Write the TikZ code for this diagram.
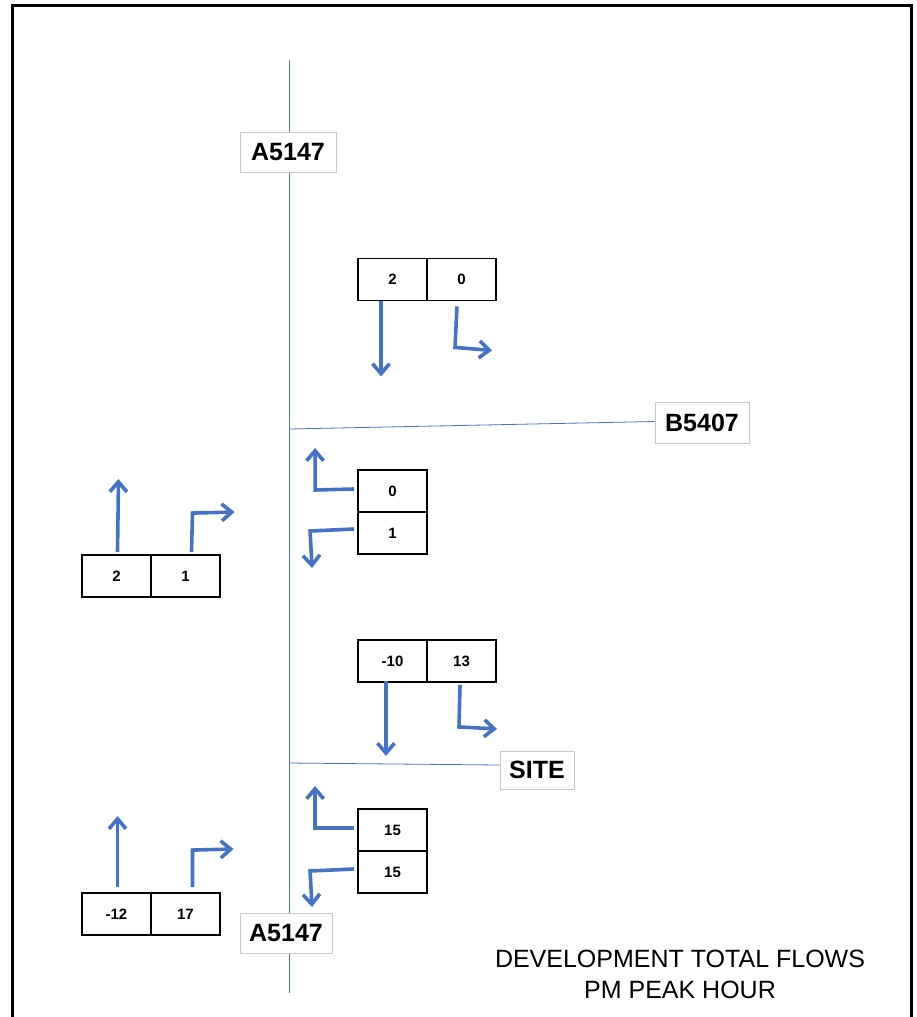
\documentclass[tikz,border=0pt]{standalone}
\usepackage{fontspec}
\setmainfont{Liberation Sans}
\usepackage{tikz}
\usetikzlibrary{arrows.meta}
\definecolor{flowblue}{HTML}{4472C4}
\definecolor{tagline}{HTML}{C8C8C8}
\tikzset{
  road/.style    = {flowblue, line width=0.8pt},
  flow/.style    = {flowblue, line width=3.6pt, -{Straight Barb[length=10pt,width=17pt]}},
  cell/.style    = {draw, line width=1.9pt, minimum width=69pt, minimum height=42pt,
                    inner sep=0pt, font=\fontsize{15}{17}\selectfont\bfseries},
  roadtag/.style = {draw=tagline, line width=1pt, fill=white, inner sep=0pt,
                    font=\fontsize{25}{28}\selectfont\bfseries}
}

\begin{document}
\begin{tikzpicture}[x=1pt,y=-1pt]
  \useasboundingbox (0,0) rectangle (916,1017);
  \draw[line width=3.5pt] (12.5,1017) -- (12.5,5.5) -- (911.5,5.5) -- (911.5,1017);

  % roads
  \coordinate (rtop) at (289,60);
  \coordinate (rbot) at (289,993);
  \coordinate (jb) at (289,429);
  \coordinate (js) at (289,763);
  \node[roadtag,minimum width=94pt,minimum height=41pt] (b5407) at (702,422.5) {B5407};
  \node[roadtag,minimum width=74pt,minimum height=38pt] (site) at (537,770) {SITE};
  \draw[road] (rtop) -- (rbot);
  \draw[road] (jb) -- ([yshift=1pt]b5407.west);
  \draw[road] (js) -- ([yshift=5pt]site.west);
  \node[roadtag,minimum width=96pt,minimum height=40pt] (atop) at (288,152) {A5147};
  \node[roadtag,minimum width=92pt,minimum height=40pt] (abot) at (286,933) {A5147};

  % flow boxes
  \node[cell] (p1a) at (392.5,279.5) {2};
  \node[cell] (p1b) at (461.5,279.5) {0};
  \node[cell] (s1a) at (392.5,491) {0};
  \node[cell] (s1b) at (392.5,533) {1};
  \node[cell] (l1a) at (116.5,576) {2};
  \node[cell] (l1b) at (185.5,576) {1};
  \node[cell] (p2a) at (392.5,661) {-10};
  \node[cell] (p2b) at (461.5,661) {13};
  \node[cell] (s2a) at (392.5,830) {15};
  \node[cell] (s2b) at (392.5,872) {15};
  \node[cell] (l2a) at (116.5,914) {-12};
  \node[cell] (l2b) at (185.5,914) {17};

  % turning arrows
  \draw[flow] ([xshift=-11.5pt]p1a.south) -- ++(0,75);
  \draw[flow] ([xshift=-4.5pt,yshift=-5pt]p1b.south) -- ++(-2,41) -- ++(37,3);
  \draw[flow] ([xshift=-3pt,yshift=2pt]s1a.west) -- ++(-39,1) -- ++(0,-42);
  \draw[flow] ([xshift=-3pt,yshift=4pt]s1b.west) -- ++(-44,2) -- ++(2,37);
  \draw[flow] ([xshift=1pt,yshift=2pt]l1a.north) -- ++(1,-73);
  \draw[flow] ([xshift=6pt,yshift=2pt]l1b.north) -- ++(1,-39) -- ++(42,-1);
  \draw[flow] ([xshift=-6.5pt,yshift=2pt]p2a.south) -- ++(0,75);
  \draw[flow] ([xshift=-1.5pt,yshift=-2pt]p2b.south) -- ++(-1,42) -- ++(38,2);
  \draw[flow] ([xshift=-3pt,yshift=2pt]s2a.west) -- ++(-39,0) -- ++(0,-42);
  \draw[flow] ([xshift=-3pt,yshift=3pt]s2b.west) -- ++(-44,2) -- ++(2,36);
  \draw[flow] ([xshift=1pt,yshift=5pt]l2a.north) -- ++(0,-71);
  \draw[flow] ([xshift=7pt,yshift=5pt]l2b.north) -- ++(0,-37) -- ++(41,-1);

  \node[align=center,font=\fontsize{25}{31}\selectfont] (title) at (680,974)
    {DEVELOPMENT TOTAL FLOWS\\PM PEAK HOUR};
\end{tikzpicture}
\end{document}
